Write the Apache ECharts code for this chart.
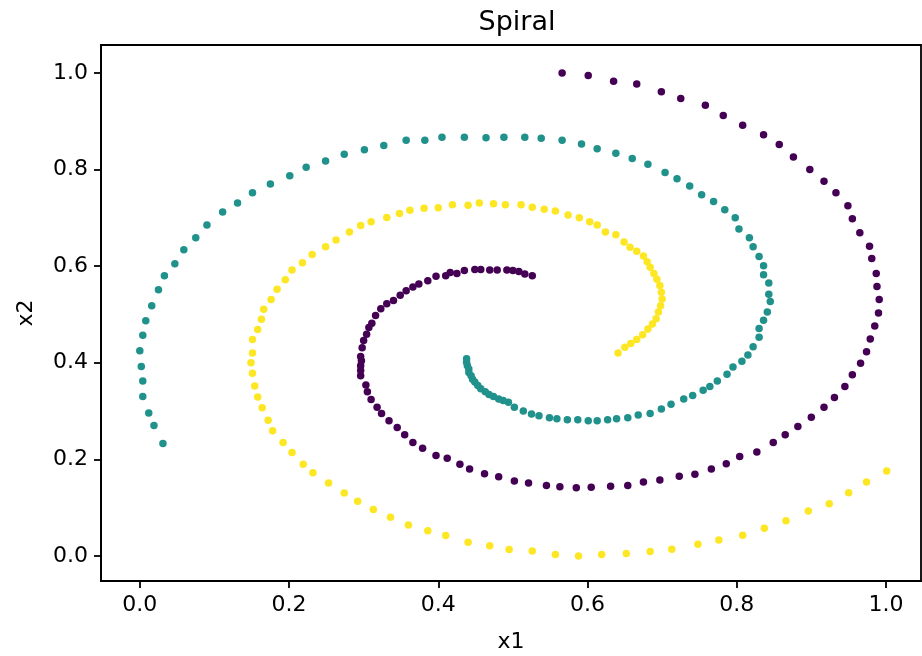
<!DOCTYPE html>
<html>
<head>
<meta charset="utf-8">
<script src="https://cdn.jsdelivr.net/npm/echarts@6/dist/echarts.min.js"></script>
<style>
  html, body { margin: 0; padding: 0; background: #fff; }
  #chart { width: 922px; height: 656px; }
</style>
</head>
<body>
<div id="chart"></div>
<script>
// spiral arms, outer end -> inner end
const armPurple = [
  [0.566, 1.000], [0.601, 0.995], [0.635, 0.983], [0.666, 0.977], [0.699, 0.961],
  [0.725, 0.947], [0.758, 0.933], [0.782, 0.912], [0.808, 0.892], [0.836, 0.872],
  [0.857, 0.852], [0.876, 0.826], [0.898, 0.800], [0.917, 0.776], [0.933, 0.752],
  [0.949, 0.725], [0.955, 0.698], [0.965, 0.669], [0.978, 0.641], [0.981, 0.616],
  [0.987, 0.585], [0.988, 0.558], [0.991, 0.531], [0.990, 0.503], [0.985, 0.476],
  [0.979, 0.449], [0.974, 0.423], [0.966, 0.399], [0.955, 0.375], [0.945, 0.351],
  [0.931, 0.328], [0.917, 0.308], [0.900, 0.287], [0.882, 0.268], [0.865, 0.251],
  [0.849, 0.235], [0.827, 0.215], [0.804, 0.206], [0.786, 0.191], [0.766, 0.180],
  [0.744, 0.169], [0.723, 0.165], [0.697, 0.157], [0.675, 0.153], [0.654, 0.146],
  [0.631, 0.144], [0.605, 0.142], [0.585, 0.141], [0.563, 0.143], [0.545, 0.146],
  [0.521, 0.151], [0.502, 0.155], [0.481, 0.164], [0.462, 0.170], [0.442, 0.180],
  [0.429, 0.190], [0.412, 0.202], [0.397, 0.208], [0.379, 0.223], [0.366, 0.235],
  [0.355, 0.251], [0.345, 0.266], [0.334, 0.280], [0.324, 0.295], [0.318, 0.308],
  [0.310, 0.324], [0.305, 0.340], [0.303, 0.354], [0.296, 0.373], [0.296, 0.384],
  [0.296, 0.394], [0.297, 0.404], [0.296, 0.413], [0.298, 0.431], [0.300, 0.446],
  [0.304, 0.459], [0.307, 0.473], [0.311, 0.482], [0.316, 0.498], [0.323, 0.512],
  [0.331, 0.522], [0.340, 0.529], [0.349, 0.540], [0.357, 0.549], [0.366, 0.557],
  [0.374, 0.563], [0.386, 0.570], [0.397, 0.579], [0.410, 0.580], [0.416, 0.587],
  [0.425, 0.585], [0.435, 0.591], [0.449, 0.593], [0.457, 0.593], [0.469, 0.592],
  [0.479, 0.592], [0.492, 0.592], [0.500, 0.591], [0.508, 0.589], [0.516, 0.584],
  [0.526, 0.580]
];

const armTeal = [
  [0.031, 0.233], [0.019, 0.270], [0.012, 0.296], [0.004, 0.330], [0.004, 0.362],
  [0.002, 0.392], [0.000, 0.425], [0.004, 0.457], [0.008, 0.487], [0.016, 0.518],
  [0.025, 0.551], [0.033, 0.580], [0.047, 0.605], [0.059, 0.634], [0.075, 0.659],
  [0.090, 0.685], [0.111, 0.712], [0.131, 0.731], [0.151, 0.752], [0.175, 0.770],
  [0.201, 0.787], [0.223, 0.805], [0.249, 0.818], [0.274, 0.832], [0.301, 0.841],
  [0.327, 0.850], [0.357, 0.861], [0.382, 0.861], [0.405, 0.867], [0.435, 0.867],
  [0.464, 0.866], [0.488, 0.867], [0.516, 0.867], [0.538, 0.865], [0.566, 0.861],
  [0.592, 0.853], [0.613, 0.843], [0.638, 0.834], [0.660, 0.823], [0.681, 0.811],
  [0.704, 0.794], [0.720, 0.781], [0.737, 0.766], [0.753, 0.748], [0.769, 0.734],
  [0.784, 0.717], [0.798, 0.700], [0.803, 0.677], [0.817, 0.659], [0.822, 0.640],
  [0.830, 0.620], [0.836, 0.601], [0.836, 0.582], [0.843, 0.565], [0.843, 0.542],
  [0.845, 0.527], [0.841, 0.505], [0.836, 0.488], [0.830, 0.471], [0.830, 0.453],
  [0.822, 0.433], [0.815, 0.416], [0.807, 0.403], [0.795, 0.391], [0.787, 0.376],
  [0.774, 0.362], [0.764, 0.351], [0.755, 0.343], [0.741, 0.332], [0.729, 0.325],
  [0.712, 0.314], [0.699, 0.304], [0.684, 0.295], [0.668, 0.292], [0.654, 0.286],
  [0.639, 0.284], [0.627, 0.282], [0.613, 0.280], [0.601, 0.280], [0.587, 0.282],
  [0.573, 0.282], [0.559, 0.284], [0.549, 0.286], [0.535, 0.290], [0.525, 0.294],
  [0.514, 0.300], [0.502, 0.308], [0.494, 0.318], [0.487, 0.322], [0.481, 0.325],
  [0.474, 0.330], [0.468, 0.334], [0.463, 0.340], [0.457, 0.346], [0.453, 0.353],
  [0.449, 0.360], [0.446, 0.366], [0.444, 0.373], [0.441, 0.380], [0.441, 0.387],
  [0.439, 0.394], [0.438, 0.401], [0.438, 0.408]
];

const armYellow = [
  [1.001, 0.176], [0.974, 0.153], [0.950, 0.131], [0.924, 0.108], [0.896, 0.093],
  [0.866, 0.073], [0.837, 0.057], [0.808, 0.043], [0.776, 0.033], [0.748, 0.024],
  [0.713, 0.014], [0.684, 0.009], [0.652, 0.005], [0.619, 0.003], [0.588, 0.000],
  [0.557, 0.003], [0.526, 0.010], [0.495, 0.013], [0.469, 0.021], [0.440, 0.028],
  [0.410, 0.042], [0.386, 0.052], [0.360, 0.064], [0.336, 0.080], [0.313, 0.096],
  [0.292, 0.113], [0.274, 0.130], [0.253, 0.151], [0.232, 0.172], [0.219, 0.190],
  [0.204, 0.214], [0.192, 0.235], [0.178, 0.259], [0.172, 0.281], [0.164, 0.307],
  [0.158, 0.329], [0.154, 0.352], [0.151, 0.378], [0.149, 0.400], [0.151, 0.420],
  [0.151, 0.448], [0.158, 0.469], [0.163, 0.490], [0.166, 0.511], [0.176, 0.531],
  [0.184, 0.552], [0.195, 0.572], [0.204, 0.592], [0.218, 0.607], [0.231, 0.624],
  [0.249, 0.640], [0.263, 0.654], [0.281, 0.671], [0.296, 0.684], [0.310, 0.692],
  [0.331, 0.701], [0.348, 0.709], [0.362, 0.716], [0.381, 0.720], [0.400, 0.721],
  [0.419, 0.727], [0.440, 0.726], [0.455, 0.731], [0.474, 0.729], [0.490, 0.727],
  [0.511, 0.727], [0.526, 0.722], [0.542, 0.718], [0.557, 0.714], [0.574, 0.706],
  [0.589, 0.700], [0.603, 0.692], [0.613, 0.685], [0.624, 0.671], [0.638, 0.665],
  [0.649, 0.650], [0.657, 0.639], [0.666, 0.631], [0.675, 0.621], [0.680, 0.609],
  [0.684, 0.598], [0.689, 0.585], [0.693, 0.573], [0.697, 0.560], [0.699, 0.546],
  [0.700, 0.532], [0.698, 0.518], [0.695, 0.505], [0.692, 0.491], [0.687, 0.480],
  [0.681, 0.470], [0.674, 0.458], [0.666, 0.448], [0.658, 0.440], [0.650, 0.432],
  [0.641, 0.420]
];

const tickValues = [0, 0.2, 0.4, 0.6, 0.8, 1.0];

const chart = echarts.init(document.getElementById('chart'));

const font = 'DejaVu Sans';

function axis(name, min, max, nameGap, extra) {
  return Object.assign({
    type: 'value',
    name: name,
    nameLocation: 'middle',
    nameGap: nameGap,
    nameTextStyle: { fontFamily: font, fontSize: 22, color: '#000' },
    min: min,
    max: max,
    splitLine: { show: false },
    axisLine: { show: true, onZero: false, lineStyle: { color: '#000', width: 1.8 } },
    axisTick: { show: true, length: 7, lineStyle: { color: '#000', width: 1.8 }, customValues: tickValues },
    axisLabel: {
      fontFamily: font, fontSize: 22, color: '#000', margin: 13,
      customValues: tickValues,
      formatter: v => v.toFixed(1)
    }
  }, extra);
}

const option = {
  animation: false,
  backgroundColor: '#fff',
  title: {
    text: 'Spiral',
    left: 512,
    textAlign: 'center',
    top: 4,
    textStyle: { fontFamily: font, fontSize: 27, fontWeight: 'normal', color: '#000' }
  },
  grid: {
    left: 101, top: 45, width: 820, height: 536,
    outerBoundsMode: 'none',
    containLabel: false,
    show: true, borderColor: '#000', borderWidth: 1.8, backgroundColor: '#fff'
  },
  xAxis: axis('x1', -0.052, 1.047, 50),
  yAxis: axis('x2', -0.052, 1.058, 64, { nameRotate: 90 }),
  series: [
    { type: 'scatter', data: armPurple, symbolSize: 7.5, itemStyle: { color: '#440154', opacity: 1 } },
    { type: 'scatter', data: armTeal, symbolSize: 7.5, itemStyle: { color: '#21918c', opacity: 1 } },
    { type: 'scatter', data: armYellow, symbolSize: 7.5, itemStyle: { color: '#fde725', opacity: 1 } }
  ]
};

chart.setOption(option);
</script>
</body>
</html>
